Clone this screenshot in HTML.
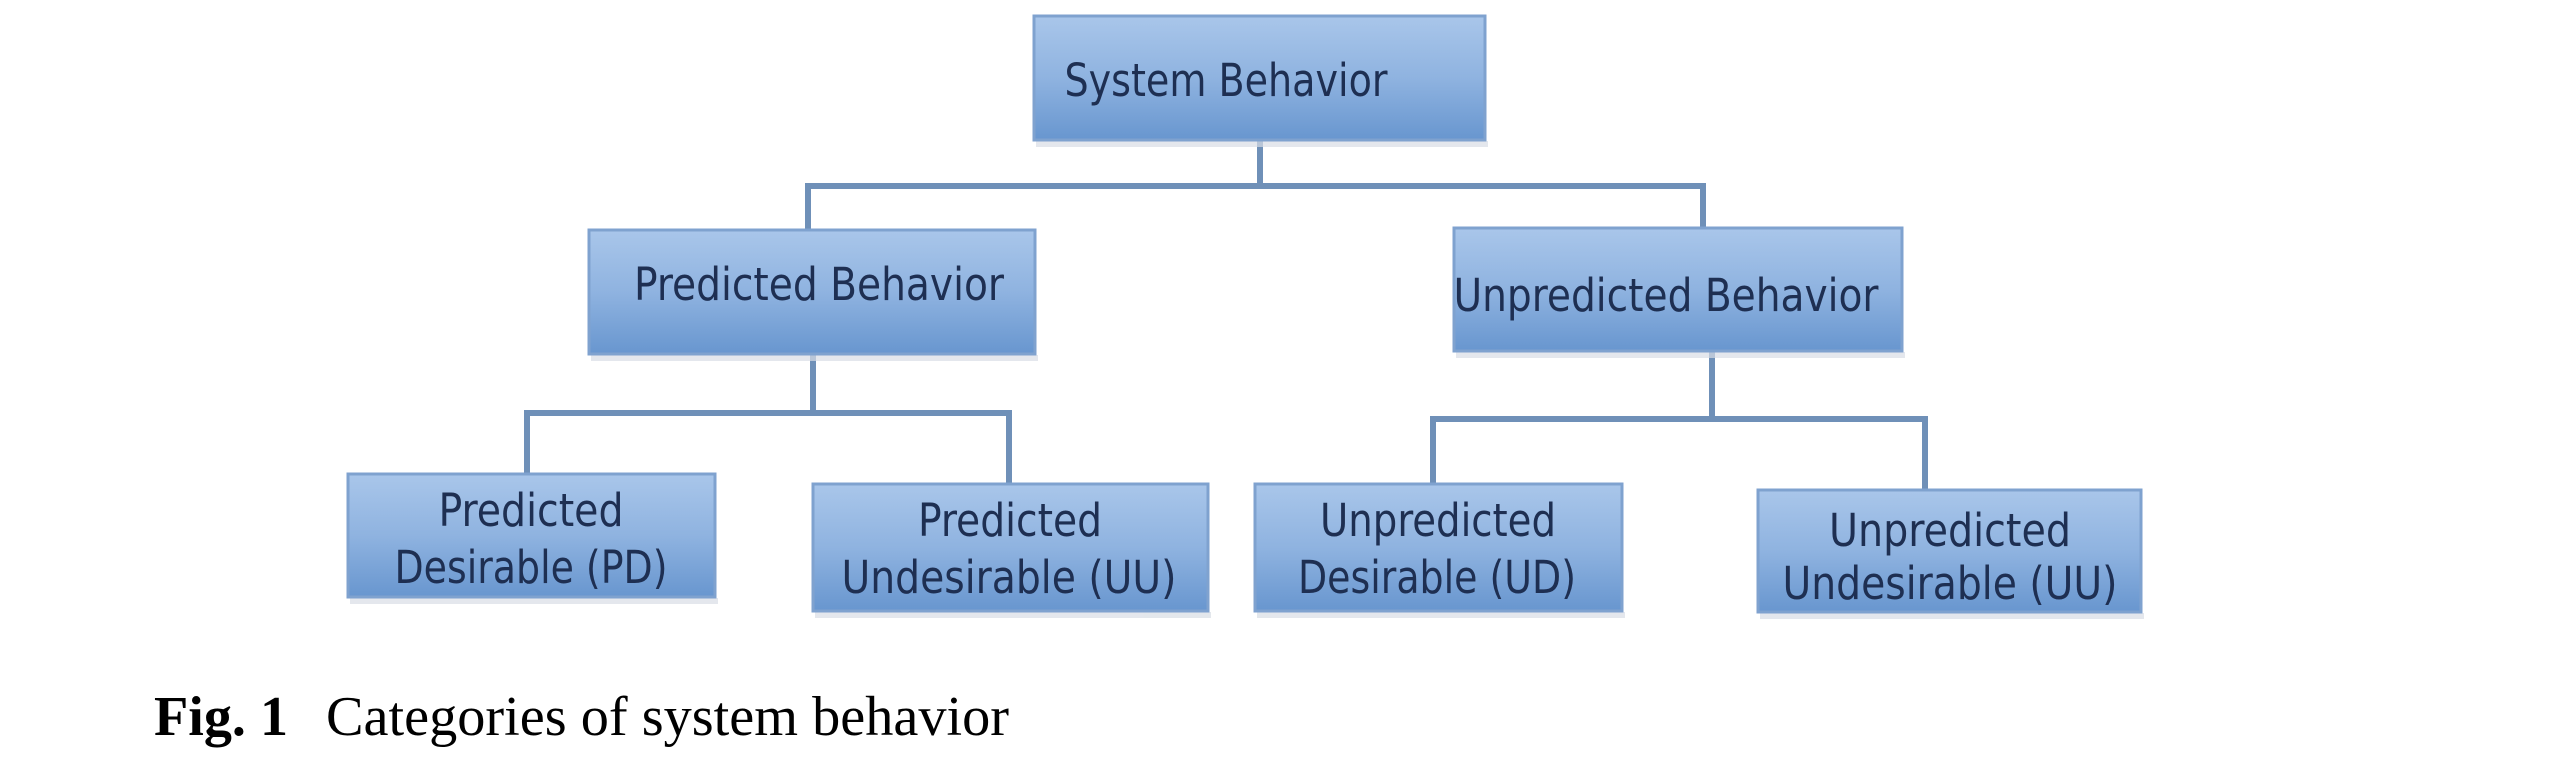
<!DOCTYPE html>
<html><head><meta charset="utf-8"><style>
html,body{margin:0;padding:0;background:#fff;}
svg{display:block;}
</style></head><body>
<svg width="2561" height="766" viewBox="0 0 2561 766" xmlns="http://www.w3.org/2000/svg">
<defs>
<linearGradient id="g" x1="0" y1="0" x2="0" y2="1">
<stop offset="0" stop-color="#a9c6ea"/>
<stop offset="0.5" stop-color="#8fb3e0"/>
<stop offset="1" stop-color="#6896cf"/>
</linearGradient>
</defs>
<g fill="none" stroke="#6f90b8" stroke-width="6">
<path d="M1260 140 V186"/>
<path d="M808 229 V186 H1703 V227"/>
<path d="M813 354 V413"/>
<path d="M527 474 V413 H1009 V483"/>
<path d="M1712 351 V419"/>
<path d="M1433 483 V419 H1925 V489"/>
</g>
<g fill="#d8dde5" opacity="0.7">
<rect x="1036" y="141" width="452" height="6"/>
<rect x="591" y="355" width="447" height="6"/>
<rect x="1456" y="352" width="449" height="6"/>
<rect x="350" y="598" width="368" height="6"/>
<rect x="815" y="612" width="396" height="6"/>
<rect x="1257" y="612" width="368" height="6"/>
<rect x="1760" y="613" width="384" height="6"/>
</g>
<g fill="url(#g)" stroke="#7fa2cf" stroke-width="3">
<rect x="1034" y="16" width="451" height="124"/>
<rect x="589" y="230" width="446" height="124"/>
<rect x="1454" y="228" width="448" height="123"/>
<rect x="348" y="474" width="367" height="123"/>
<rect x="813" y="484" width="395" height="127"/>
<rect x="1255" y="484" width="367" height="127"/>
<rect x="1758" y="490" width="383" height="122"/>
</g>
<g fill="#1e2f52" font-family="'DejaVu Sans Condensed','Liberation Sans Narrow','Liberation Sans',sans-serif" font-size="45" text-anchor="middle">
<text x="1226" y="96" textLength="323" lengthAdjust="spacingAndGlyphs">System Behavior</text>
<text x="819" y="300" textLength="370" lengthAdjust="spacingAndGlyphs">Predicted Behavior</text>
<text x="1666" y="311" textLength="425" lengthAdjust="spacingAndGlyphs">Unpredicted Behavior</text>
<text x="531" y="526" textLength="185" lengthAdjust="spacingAndGlyphs">Predicted</text>
<text x="531" y="583" textLength="273" lengthAdjust="spacingAndGlyphs">Desirable (PD)</text>
<text x="1010" y="536" textLength="184" lengthAdjust="spacingAndGlyphs">Predicted</text>
<text x="1009" y="593" textLength="335" lengthAdjust="spacingAndGlyphs">Undesirable (UU)</text>
<text x="1438" y="536" textLength="236" lengthAdjust="spacingAndGlyphs">Unpredicted</text>
<text x="1437" y="593" textLength="278" lengthAdjust="spacingAndGlyphs">Desirable (UD)</text>
<text x="1950" y="546" textLength="242" lengthAdjust="spacingAndGlyphs">Unpredicted</text>
<text x="1950" y="599" textLength="335" lengthAdjust="spacingAndGlyphs">Undesirable (UU)</text>
</g>
<g font-family="'Liberation Serif',serif" font-size="56" fill="#000">
<text x="154" y="735" font-weight="bold" textLength="134" lengthAdjust="spacingAndGlyphs">Fig. 1</text>
<text x="326" y="735" textLength="683" lengthAdjust="spacingAndGlyphs">Categories of system behavior</text>
</g>
</svg>
</body></html>
